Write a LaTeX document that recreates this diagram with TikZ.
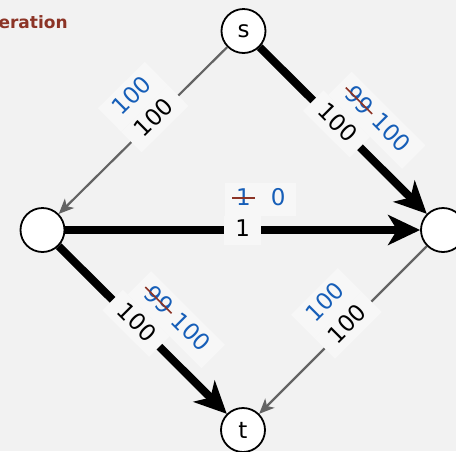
\documentclass[tikz,border=0pt]{standalone}
\usepackage{fontspec}
\setmainfont{DejaVu Sans}
\usetikzlibrary{arrows.meta}

\definecolor{bgcolor}{RGB}{242,242,242}
\definecolor{boxfill}{RGB}{247,247,247}
\definecolor{flowblue}{RGB}{22,94,184}
\definecolor{titlered}{RGB}{140,52,38}
\definecolor{edgegray}{RGB}{100,100,100}

% old flow value with a line through it
\newsavebox\oldflow
\newcommand{\crossout}[1]{\sbox\oldflow{#1}\usebox\oldflow\llap{\textcolor{titlered}{\rule[0.3em]{\dimexpr\wd\oldflow+8pt\relax}{1.6pt}}\hspace{-4pt}}}

\tikzset{
  vertex/.style={draw, circle, line width=1.8pt, fill=white, minimum size=44pt, inner sep=0pt, font=\fontsize{23}{23}\selectfont},
  fulledge/.style={line width=8pt, -{Stealth[length=32pt, width=30pt, inset=9pt]}},
  openedge/.style={draw=edgegray, line width=2.2pt, -{Stealth[length=15pt, width=13pt, inset=4pt]}},
  capacity/.style={sloped, fill=boxfill, inner xsep=11pt, inner ysep=4pt, text height=17pt, text depth=4pt, font=\fontsize{23}{23}\selectfont},
  flowlabel/.style={capacity, text=flowblue, inner ysep=6pt, yshift=31pt}
}

\begin{document}
\begin{tikzpicture}[x=1pt, y=1pt]
  \fill[bgcolor] (0,0) rectangle (456,-451);
  \useasboundingbox (0,0) rectangle (456,-451);

  \node[anchor=base west, text=titlered, font=\fontsize{17}{17}\selectfont\bfseries] (title) at (-5,-28) {eration};

  % Vertices
  \node[vertex] (s) at (243.5,-31) {s};
  \node[vertex] (v1) at (42.5,-230) {};
  \node[vertex] (v2) at (443,-230) {};
  \node[vertex] (t) at (243,-430) {t};

  % Edges with capacity and flow
  \draw[openedge] (s) -- (v1)
    node[capacity, pos=0.43] (c1) {100}
    node[flowlabel, pos=0.43] (f1) {100};
  \draw[fulledge] (s) -- (v2)
    node[capacity, pos=0.46] (c2) {100}
    node[flowlabel, pos=0.46, xshift=26pt] (f2) {\crossout{99}\hspace{9pt}100};
  \draw[fulledge] (v1) -- (v2)
    node[capacity, pos=0.5] (c3) {1}
    node[flowlabel, pos=0.5, xshift=18pt] (f3) {\crossout{1}\hspace{20pt}0};
  \draw[fulledge] (v1) -- (t)
    node[capacity, pos=0.46] (c4) {100}
    node[flowlabel, pos=0.46, xshift=26pt] (f4) {\crossout{99}\hspace{9pt}100};
  \draw[openedge] (v2) -- (t)
    node[capacity, pos=0.47] (c5) {100}
    node[flowlabel, pos=0.47] (f5) {100};
\end{tikzpicture}
\end{document}
